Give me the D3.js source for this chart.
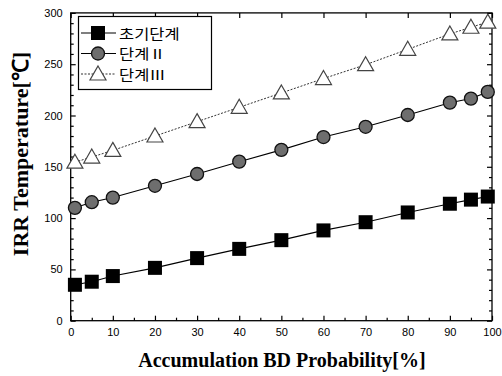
<!DOCTYPE html>
<html><head><meta charset="utf-8">
<script src="https://cdn.jsdelivr.net/npm/d3@7"></script>
<style>body{margin:0;background:#fff}svg{display:block}</style>
</head><body>
<script>
const xVals = [1, 5, 10, 20, 30, 40, 50, 60, 70, 80, 90, 95, 99];
const seriesNames = ["초기단계", "단계Ⅱ", "단계Ⅲ"];
const initial = [35, 38, 43.5, 51.5, 61, 70, 78.5, 88, 96, 105.5, 114, 118, 121];
const stage2 = [110, 115.5, 120, 131.5, 143, 155, 166.5, 179, 189, 200.5, 212.5, 216.5, 223];
const stage3 = [154.5, 159.5, 166, 180, 194, 208, 222, 236, 249.5, 264.5, 279.5, 286, 291];
const xTicks = [0, 10, 20, 30, 40, 50, 60, 70, 80, 90, 100];
const yTicks = [0, 50, 100, 150, 200, 250, 300];

const W = 502, H = 376;
const svg = d3.select("body").append("svg").attr("width", W).attr("height", H);
const x = d3.scaleLinear().domain([0, 100]).range([70.7, 492]);
const y = d3.scaleLinear().domain([0, 300]).range([320.7, 12.9]);

const g = svg.append("g");
g.append("rect").attr("x", x(0)).attr("y", y(300)).attr("width", x(100) - x(0)).attr("height", y(0) - y(300))
  .attr("fill", "none").attr("stroke", "#000").attr("stroke-width", 1.3);

const fontT = "Liberation Sans, Arial, sans-serif";
const xAx = g.append("g").attr("transform", `translate(0,${y(0)})`)
  .call(d3.axisBottom(x).tickValues(xTicks).tickSize(-5).tickPadding(8));
const xMinor = g.append("g").attr("transform", `translate(0,${y(0)})`)
  .call(d3.axisBottom(x).tickValues(d3.range(5, 100, 10)).tickSize(-3).tickFormat(""));
const yAx = g.append("g").attr("transform", `translate(${x(0)},0)`)
  .call(d3.axisLeft(y).tickValues(yTicks).tickSize(-5).tickPadding(8));
const yMinor = g.append("g").attr("transform", `translate(${x(0)},0)`)
  .call(d3.axisLeft(y).tickValues(d3.range(10, 300, 10).filter(v => v % 50)).tickSize(-3).tickFormat(""));
const yR = g.append("g").attr("transform", `translate(${x(100)},0)`)
  .call(d3.axisRight(y).tickValues(yTicks).tickSize(-5).tickFormat(""));
const yRm = g.append("g").attr("transform", `translate(${x(100)},0)`)
  .call(d3.axisRight(y).tickValues(d3.range(10, 300, 10).filter(v => v % 50)).tickSize(-3).tickFormat(""));
const xT = g.append("g").attr("transform", `translate(0,${y(300)})`)
  .call(d3.axisTop(x).tickValues(xTicks).tickSize(-5).tickFormat(""));
[xAx, xMinor, yAx, yMinor, yR, yRm, xT].forEach(a => {
  a.select(".domain").remove();
  a.selectAll("line").attr("stroke", "#000").attr("stroke-width", 1.2);
  a.selectAll("text").attr("font-family", fontT).attr("font-size", 11).attr("fill", "#000");
});

svg.append("text").attr("x", 282).attr("y", 367).attr("text-anchor", "middle")
  .attr("font-family", "Liberation Serif, Times New Roman, serif").attr("font-weight", "bold").attr("font-size", 20)
  .text("Accumulation BD Probability[%]");
svg.append("text").attr("transform", `translate(28,154) rotate(-90)`).attr("text-anchor", "middle")
  .attr("font-family", "Liberation Serif, Times New Roman, serif").attr("font-weight", "bold").attr("font-size", 22)
  .text("IRR Temperature[℃]");

const line = d3.line().x((d, i) => x(xVals[i])).y(d => y(d));
const series = [initial, stage2, stage3];
g.append("path").datum(stage3).attr("d", line).attr("fill", "none").attr("stroke", "#333").attr("stroke-width", 1).attr("stroke-dasharray", "2,1.5");
g.append("path").datum(stage2).attr("d", line).attr("fill", "none").attr("stroke", "#000").attr("stroke-width", 1.1);
g.append("path").datum(initial).attr("d", line).attr("fill", "none").attr("stroke", "#000").attr("stroke-width", 1.1);

function drawSym(sel, type, cx, cy) {
  if (type === 0) {
    sel.append("rect").attr("x", cx - 7).attr("y", cy - 7).attr("width", 14).attr("height", 14).attr("fill", "#000");
  } else if (type === 1) {
    sel.append("circle").attr("cx", cx).attr("cy", cy).attr("r", 6.5).attr("fill", "#6e6e6e").attr("stroke", "#111").attr("stroke-width", 1.3);
  } else {
    const s = 8;
    sel.append("path").attr("d", `M${cx},${cy - s}L${cx + s},${cy + s * 0.75}L${cx - s},${cy + s * 0.75}Z`)
      .attr("fill", "#fff").attr("stroke", "#444").attr("stroke-width", 1.2);
  }
}
series.forEach((s, k) => {
  const gg = g.append("g");
  s.forEach((v, i) => drawSym(gg, k, x(xVals[i]), y(v)));
});

const lg = svg.append("g");
lg.append("rect").attr("x", 78.5).attr("y", 16.5).attr("width", 133).attr("height", 73)
  .attr("fill", "#fff").attr("stroke", "#000").attr("stroke-width", 1.2);
const rowsY = [33, 53.5, 74];
seriesNames.forEach((n, k) => {
  const ly = rowsY[k];
  lg.append("line").attr("x1", 81).attr("x2", 116).attr("y1", ly).attr("y2", ly)
    .attr("stroke", k === 2 ? "#333" : "#000").attr("stroke-width", 1.1).attr("stroke-dasharray", k === 2 ? "2,1.5" : null);
  drawSym(lg, k, 98, ly);
  lg.append("text").attr("transform", `translate(119,${ly + 5.5}) scale(1.22,1)`)
    .attr("font-family", "Noto Sans CJK KR, sans-serif")
    .attr("font-size", 13.5).attr("fill", "#000").text(n);
});
</script>
</body></html>
